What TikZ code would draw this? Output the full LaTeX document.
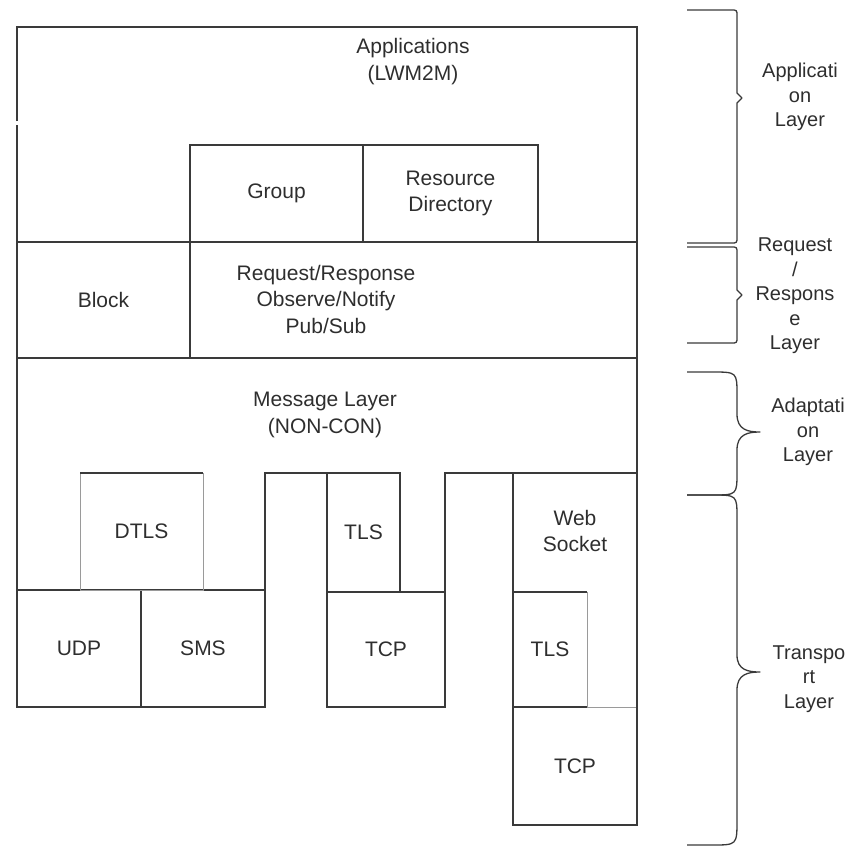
\documentclass[tikz,border=0pt]{standalone}
\usepackage{fontspec}
\setmainfont{Liberation Sans}
\definecolor{linec}{HTML}{3A3A3A}
\definecolor{lightc}{HTML}{9A9A9A}
\definecolor{textc}{HTML}{2E2E2E}
\begin{document}
\begin{tikzpicture}[x=1pt,y=-1pt,
  ln/.style={draw=linec, line width=1.5pt},
  lt/.style={draw=lightc, line width=1pt},
  lbl/.style={text=textc, font=\fontsize{21}{26.5}\selectfont, align=center, inner sep=0pt},
  side/.style={text=textc, font=\fontsize{20}{24.5}\selectfont, align=center, inner sep=0pt},
  box/.style={ln, lbl, anchor=north west, outer sep=0pt},
  brc/.style={draw=linec, line width=1.3pt, line join=round},
]
\useasboundingbox (0,0) rectangle (860,847);

% --- application part -------------------------------------------------
\draw[ln] (17,121) -- (17,27) -- (637,27) -- (637,242);
\draw[ln] (17,125) -- (17,242);
\node[lbl] (apps) at (413,61.5) {Applications\\(LWM2M)};
\node[box, minimum width=173pt, minimum height=97pt] (group) at (190,145) {Group};
\node[box, minimum width=175pt, minimum height=97pt] (resdir) at (363,145) {Resource\\Directory};

% --- request / response part -------------------------------------------
\node[box, minimum width=173pt, minimum height=116pt] (block) at (17,242) {Block};
\node[box, minimum width=447pt, minimum height=116pt] (reqbox) at (190,242) {};
\node[lbl] (reqtext) at (326,299) {Request/Response\\Observe/Notify\\Pub/Sub};

% --- message layer -----------------------------------------------------
\draw[ln] (17,590) -- (17,358) -- (637,358) -- (637,473);
\node[lbl] (msg) at (325,415) {Message Layer\\(NON-CON)};

% --- transports ----------------------------------------------------------
\node[box, minimum width=124pt, minimum height=117pt] (udp) at (17,590) {UDP};
\node[box, minimum width=124pt, minimum height=117pt] (sms) at (141,590) {SMS};
\node[box, lt, minimum width=123pt, minimum height=117pt] (dtls) at (80,473) {DTLS};
\draw[ln] (dtls.north west) -- (dtls.north east);

\node[box, minimum width=73pt, minimum height=119pt] (tlsa) at (327,473) {TLS};
\node[box, minimum width=118pt, minimum height=115pt] (tcpa) at (327,592) {TCP};
\draw[ln] (sms.north east) -- (265,473) -- (tlsa.north west);

\node[box, draw=none, minimum width=124pt, minimum height=234pt] (ws) at (513,473) {};
\node[lbl] (wstext) at (575,531) {Web\\Socket};
\draw[ln] (tcpa.north east) -- (445,473) -- (ws.north west);
\draw[lt] (ws.south west) -- (ws.south east);
\draw[ln] (ws.south west) -- (ws.north west) -- (ws.north east) -- (ws.south east);

\node[box, lt, minimum width=74pt, minimum height=115pt] (tlsb) at (513,592) {TLS};
\draw[ln] (tlsb.north east) -- (tlsb.north west) -- (tlsb.south west) -- (tlsb.south east);
\node[box, draw=none, minimum width=124pt, minimum height=118pt] (tcpb) at (513,707) {TCP};
\draw[ln] (tcpb.north west) -- (tcpb.south west) -- (tcpb.south east) -- (tcpb.north east);

% --- braces on the right --------------------------------------------------
\draw[brc] (687,10) -- (731,10) .. controls (737,10) .. (737,16) -- (737,93)
  -- (742,98) -- (737,103) -- (737,237) .. controls (737,243) .. (731,243) -- (687,243);
\draw[brc] (687,247) -- (731,247) .. controls (737,247) .. (737,253) -- (737,290)
  -- (742,295) -- (737,300) -- (737,337) .. controls (737,343) .. (731,343) -- (687,343);
\draw[brc] (687,372) -- (712,372) .. controls (737,372) .. (737,395) -- (737,414)
  .. controls (737,430) and (748,432) .. (760,432)
  .. controls (748,432) and (737,434) .. (737,450) -- (737,472)
  .. controls (737,495) .. (712,495) -- (687,495);
\draw[brc] (687,495) -- (712,495) .. controls (737,495) .. (737,518) -- (737,655)
  .. controls (737,670) and (748,672) .. (760,672)
  .. controls (748,672) and (737,674) .. (737,690) -- (737,820)
  .. controls (737,845) .. (712,845) -- (687,845);

\node[side] (applbl) at (800,97) {Applicati\\on\\Layer};
\node[side] (reqlbl) at (795,296) {Request\\/\\Respons\\e\\Layer};
\node[side] (adaptlbl) at (808,432) {Adaptati\\on\\Layer};
\node[side] (translbl) at (809,679) {Transpo\\rt\\Layer};
\end{tikzpicture}
\end{document}
